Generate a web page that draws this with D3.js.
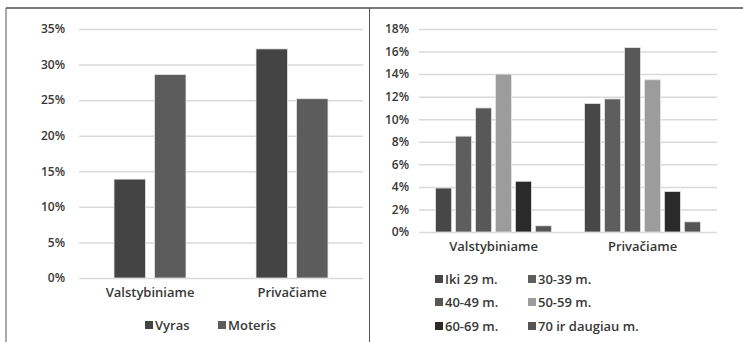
<!DOCTYPE html>
<html><head><meta charset="utf-8">
<script src="https://cdn.jsdelivr.net/npm/d3@7"></script>
<style>
body{margin:0;background:#fff;}
svg{display:block;font-family:"Open Sans",sans-serif;}
</style></head><body>
<svg id="c" width="743" height="342"></svg>
<script>
const categories = ["Valstybiniame", "Privačiame"];
const genderSeries = ["Vyras", "Moteris"];
const genderValues = [[13.9, 32.2], [28.6, 25.2]];
const genderColors = ["#444444", "#5c5c5c"];
const leftTicks = [0, 5, 10, 15, 20, 25, 30, 35];

const ageSeries = ["Iki 29 m.", "30-39 m.", "40-49 m.", "50-59 m.", "60-69 m.", "70 ir daugiau m."];
const ageValues = [[3.9, 11.4], [8.5, 11.8], [11.0, 16.35], [14.0, 13.5], [4.5, 3.6], [0.55, 0.9]];
const ageColors = ["#474747", "#5e5e5e", "#585858", "#9c9c9c", "#2a2a2a", "#555555"];
const rightTicks = [0, 2, 4, 6, 8, 10, 12, 14, 16, 18];

const svg = d3.select("#c");
const txtCol = "#383838";

// frame lines
svg.append("line").attr("x1",6).attr("x2",743).attr("y1",8).attr("y2",8).attr("stroke","#7a7a7a").attr("stroke-width",2);
svg.append("line").attr("x1",6).attr("x2",6).attr("y1",8).attr("y2",342).attr("stroke","#555").attr("stroke-width",1);
svg.append("line").attr("x1",369.5).attr("x2",369.5).attr("y1",8).attr("y2",342).attr("stroke","#555").attr("stroke-width",1);

function chart(cfg){
  const g = svg.append("g");
  const y = d3.scaleLinear().domain([0, cfg.max]).range([cfg.y0, cfg.y1]);
  const x = d3.scaleBand().domain(categories).range([cfg.x0, cfg.x1]);
  const xs = d3.scaleBand().domain(cfg.series).range([x.bandwidth()/2 - cfg.groupW/2, x.bandwidth()/2 + cfg.groupW/2]).paddingInner(cfg.inner);
  const yAxis = d3.axisLeft(y).tickValues(cfg.ticks).tickFormat(d => d + "%").tickSize(-(cfg.x1 - cfg.x0)).tickPadding(cfg.pad);
  const ga = g.append("g").attr("transform", `translate(${cfg.x0},0)`).call(yAxis);
  ga.select(".domain").remove();
  ga.selectAll(".tick line").attr("stroke", "#d9d9d9").attr("stroke-width", 1.5);
  ga.selectAll(".tick text").attr("fill", txtCol).attr("font-size", 12).attr("font-weight", 600).attr("font-family", "'Open Sans',sans-serif");
  cfg.series.forEach((s, i) => {
    g.selectAll(null).data(cfg.values[i]).enter().append("rect")
      .attr("x", (d, j) => x(categories[j]) + xs(s))
      .attr("width", xs.bandwidth())
      .attr("y", d => y(d))
      .attr("height", d => y(0) - y(d))
      .attr("fill", cfg.colors[i])
      .attr("stroke", "#e6e6e6").attr("stroke-width", 0.8);
  });
  const xAxis = d3.axisBottom(x).tickSize(0).tickPadding(cfg.catPad);
  const gx = g.append("g").attr("transform", `translate(0,${cfg.y0})`).call(xAxis);
  gx.select(".domain").remove();
  gx.selectAll(".tick text").attr("fill", txtCol).attr("font-size", 13).attr("font-weight", 600).attr("font-family", "'Open Sans',sans-serif");
  return g;
}

chart({x0:79, x1:363, y0:278, y1:29, max:35, ticks:leftTicks, series:genderSeries, values:genderValues, colors:genderColors, groupW:72, inner:0.22, pad:14, catPad:10});
chart({x0:419, x1:717, y0:232, y1:29, max:18, ticks:rightTicks, series:ageSeries, values:ageValues, colors:ageColors, groupW:116, inner:0.19, pad:10, catPad:10});

const leg1 = svg.append("g");
const leg1X = [145, 218];
genderSeries.forEach((s, i) => {
  leg1.append("rect").attr("x", leg1X[i]).attr("y", 321).attr("width", 8).attr("height", 8).attr("fill", genderColors[i]);
  leg1.append("text").attr("x", leg1X[i] + 10).attr("y", 330).text(s)
    .attr("font-size", 13).attr("font-weight", 600).attr("fill", txtCol);
});

const leg2 = svg.append("g");
const colX = [435, 528], rowY = [279, 302, 326];
ageSeries.forEach((s, i) => {
  const cx = colX[i % 2], cy = rowY[Math.floor(i / 2)];
  leg2.append("rect").attr("x", cx).attr("y", cy - 4).attr("width", 8).attr("height", 8).attr("fill", ageColors[i]);
  leg2.append("text").attr("x", cx + 10).attr("y", cy + 4.5).text(s)
    .attr("font-size", 13).attr("font-weight", 600).attr("fill", txtCol);
});
</script>
</body></html>
